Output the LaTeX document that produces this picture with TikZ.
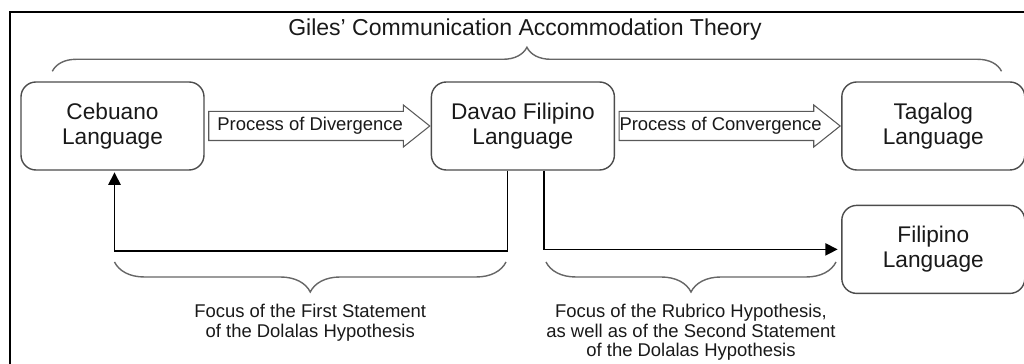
\documentclass[tikz,border=0pt]{standalone}
\usepackage{fontspec}
\setmainfont{Liberation Sans}
\usetikzlibrary{arrows.meta,shapes,positioning,decorations.pathreplacing}
\tikzset{
  every picture/.style = {
    >={Triangle[length=7pt,width=7pt]},
    node distance = 0.68cm and 4.52cm,
  }
  ,
  lang/.style = {
    rectangle,
    rounded corners = 8.5pt,
    draw = black!70,
    thick,
    text = black!90,
    align = center,
    font = \fontsize{12.9}{14.2}\selectfont,
    minimum width = 3.66cm,
    minimum height = 1.76cm
  }
  , % hollow arrows between the languages
  big-arrow/.style = {
    single arrow,
    draw = black!65,
    semithick,
    minimum height = 4.42cm,
    single arrow head extend = 0.13cm,
    single arrow tip angle = 77,
    inner xsep = 0pt,
    inner ysep = 0.28cm
  }
  , % labels of arrows
  label-arrow/.style = {
    font = \fontsize{10.5}{11.2}\selectfont,
    text = black!90
  }
  , % notes under the braces
  label-brace/.style = {
    align = center,
    font = \fontsize{10.5}{11}\selectfont,
    text = black!90
  }
  ,
  curly/.style = {
    decorate,
    decoration = {brace, amplitude = #1},
    draw = black!60,
    thick
  }
}

\begin{document}
\begin{tikzpicture}
		\useasboundingbox (0,0) rectangle (20.48,7.28);
		\clip (0,0) rectangle (20.48,7.28);
		\draw[line width=1.3pt] (0.2,-1) rectangle (21,7.04);

		\node at (2.25,4.76) [lang] (ceb) {Cebuano\\Language};
		\node[lang, right = of ceb] (dav) {Davao Filipino\\Language};
		\node[lang, right = of dav] (tag) {Tagalog\\Language};
		\node[lang, below = of tag] (fil) {Filipino\\Language};

		\node[big-arrow, right = 2pt of ceb] (div) {};
		\node[big-arrow, right = 2pt of dav] (conv) {};
		\node[label-arrow] at (div.center) (divtext) {Process of Divergence};
		\node[label-arrow] at (conv.center) (convtext) {Process of Convergence};

		\node[text=black!90, font=\fontsize{13.1}{14}\selectfont] at (10.5,6.68) (theory) {Giles’ Communication Accommodation Theory};
		\draw[curly=0.48cm] ([shift={(0.64,0.2)}]ceb.north west) -- ([shift={(-0.48,0.2)}]tag.north east);

		\coordinate (outA) at ([xshift=-0.31cm]dav.south);
		\coordinate (outB) at ([xshift=0.42cm]dav.south);
		\coordinate (inA) at ([xshift=0.04cm]ceb.south);
		\draw[->, thick, shorten >=1pt] (outA) -- ++(0,-1.61) -| (inA);
		\draw[->, thick, shorten >=2pt] (outB) |- (fil.west);

		\draw[curly=0.6cm] (10.12,2.04) -- (2.29,2.04)
			node[midway, below = 0.72cm, label-brace] (first) {Focus of the First Statement\\of the Dolalas Hypothesis};
		\draw[curly=0.6cm] (16.72,2.04) -- (10.92,2.04)
			node[midway, below = 0.72cm, label-brace] (second) {Focus of the Rubrico Hypothesis,\\as well as of the Second Statement\\of the Dolalas Hypothesis};
\end{tikzpicture}
\end{document}
